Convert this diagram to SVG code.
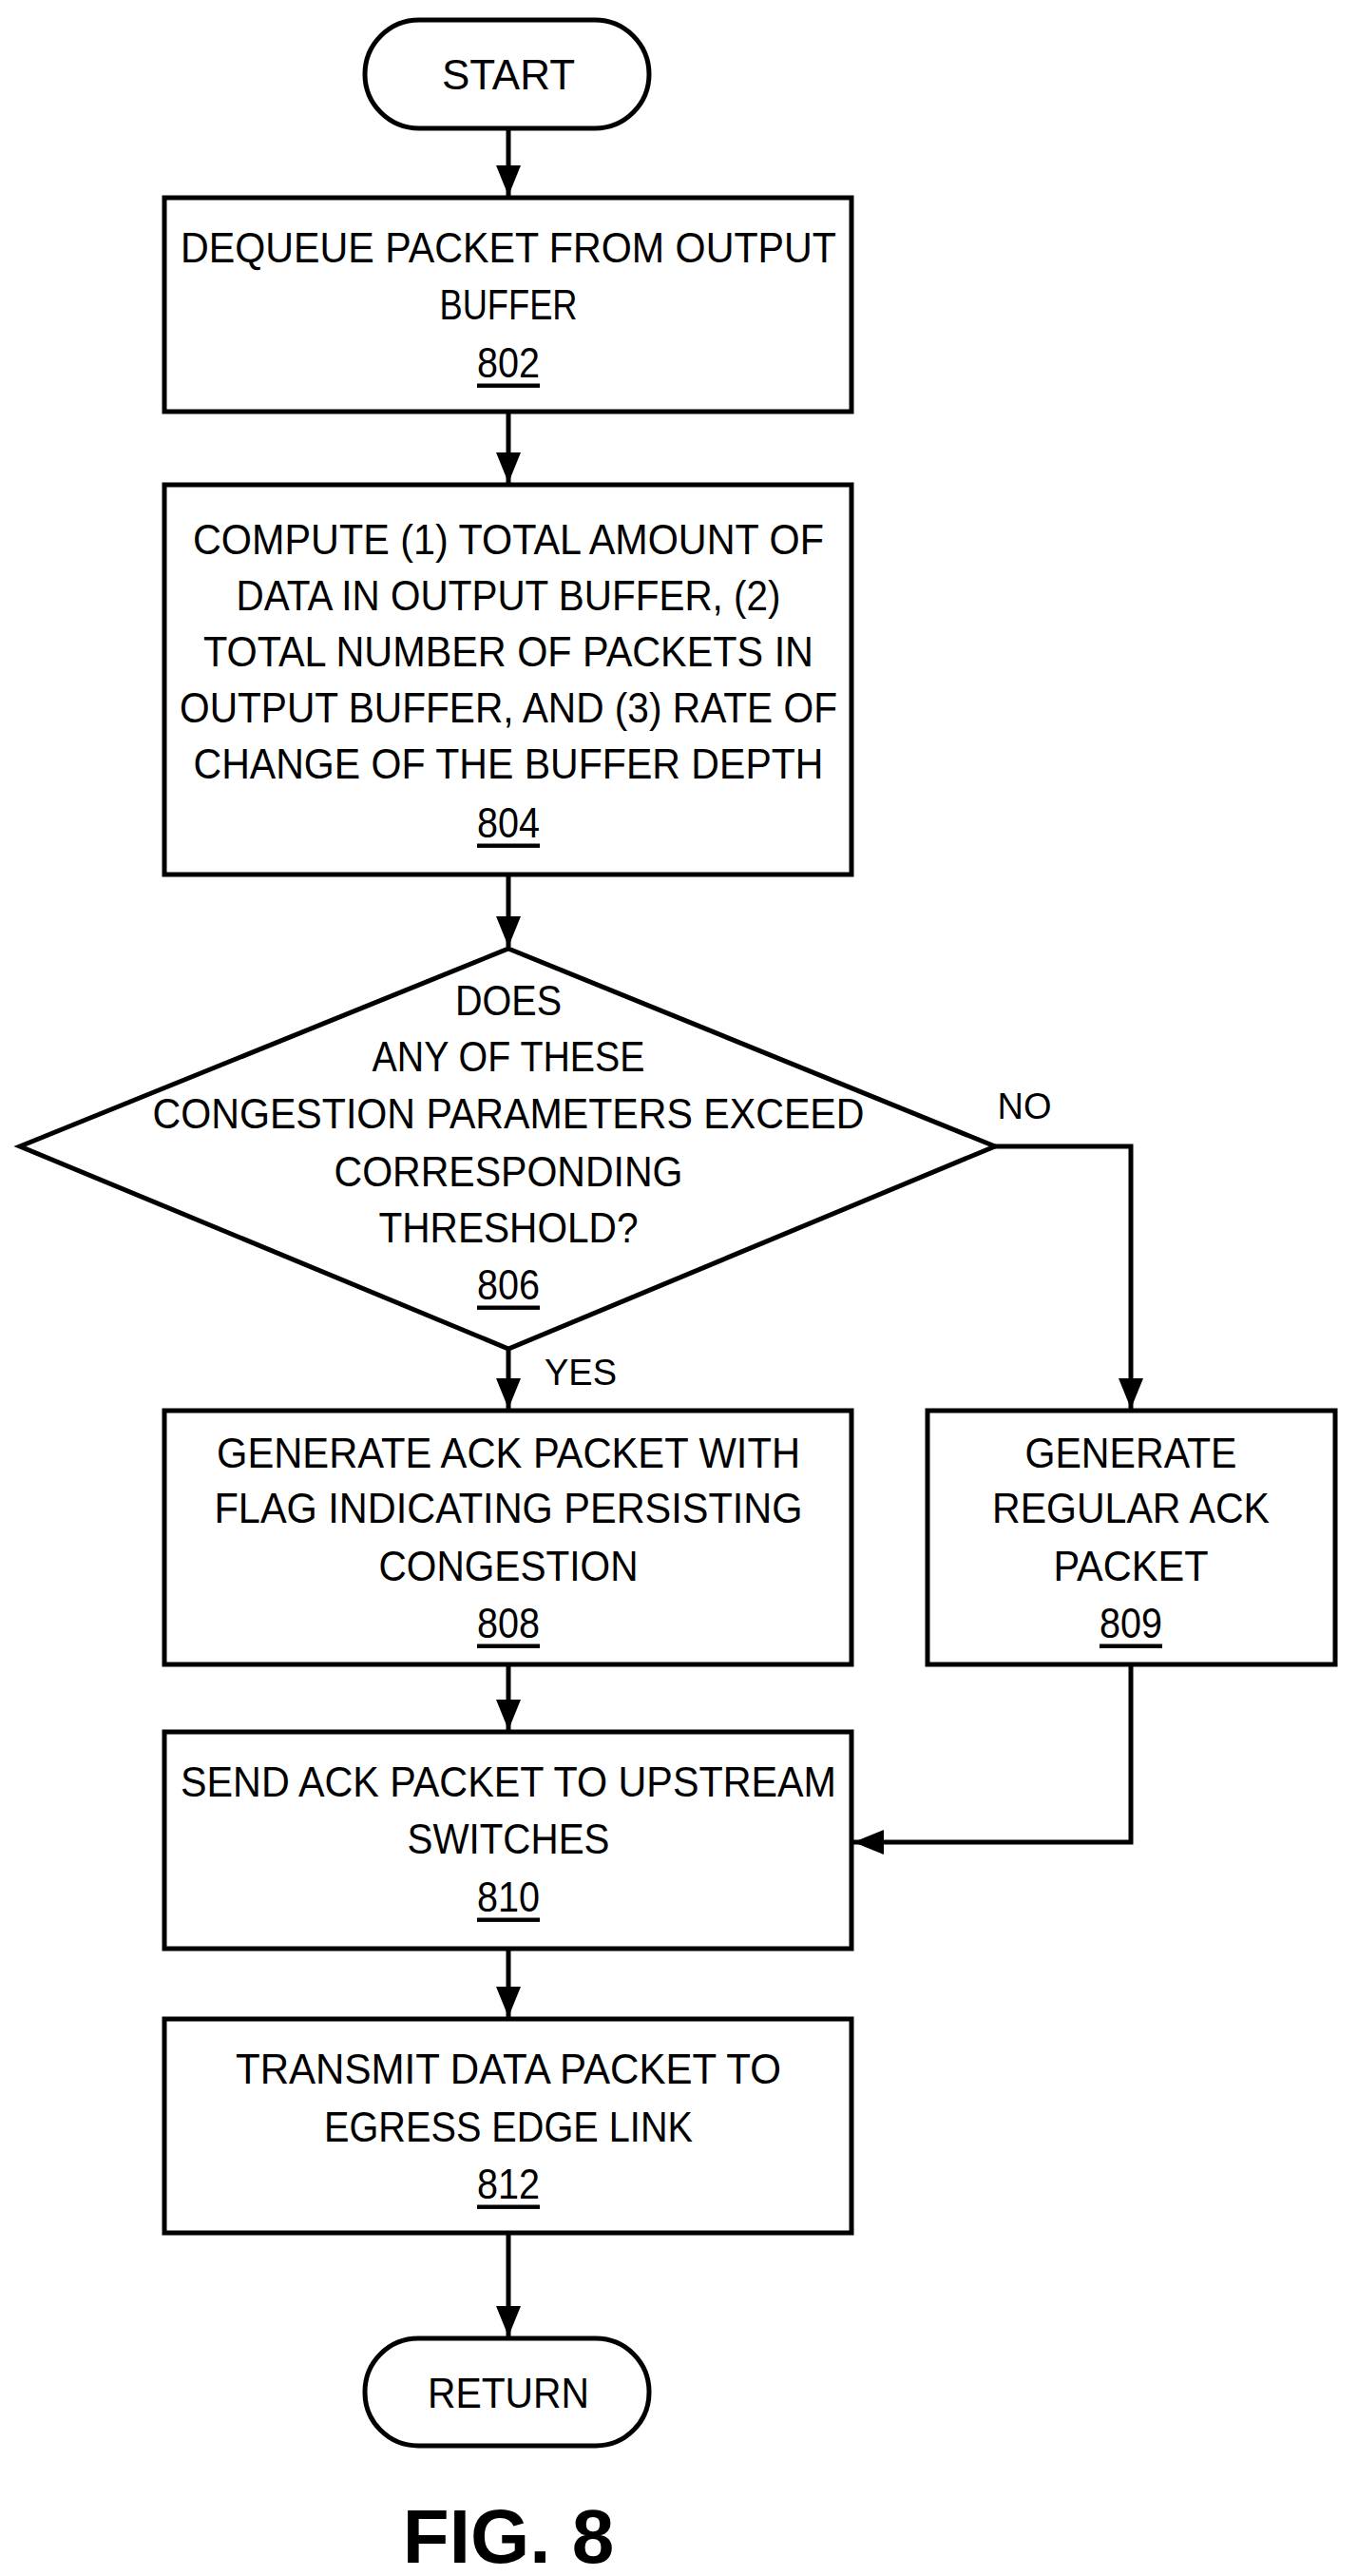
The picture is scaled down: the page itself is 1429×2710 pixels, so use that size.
<svg xmlns="http://www.w3.org/2000/svg" width="1429" height="2710" viewBox="0 0 1429 2710">
<style>
.s{fill:#fff;stroke:#000;stroke-width:5}
.t{font-family:"Liberation Sans",Arial,sans-serif;font-size:44px;text-anchor:middle;dominant-baseline:central;fill:#000}
.u{text-decoration:underline}
.c{fill:none;stroke:#000;stroke-width:5}
</style>
<defs><marker id="a" viewBox="0 0 32 26" refX="32" refY="13" markerWidth="32" markerHeight="26" markerUnits="userSpaceOnUse" orient="auto"><path d="M0,0L32,13L0,26z" fill="#000"/></marker></defs>
<rect width="1429" height="2710" fill="#fff"/>
<g id="connectors">
<line class="c" x1="535" y1="135" x2="535" y2="206" marker-end="url(#a)"/>
<line class="c" x1="535" y1="433" x2="535" y2="508" marker-end="url(#a)"/>
<line class="c" x1="535" y1="920" x2="535" y2="996" marker-end="url(#a)"/>
<line class="c" x1="535" y1="1419" x2="535" y2="1482" marker-end="url(#a)"/>
<polyline class="c" points="1047,1206 1190,1206 1190,1482" marker-end="url(#a)"/>
<line class="c" x1="535" y1="1751" x2="535" y2="1820" marker-end="url(#a)"/>
<polyline class="c" points="1190,1751 1190,1938 898,1938" marker-end="url(#a)"/>
<line class="c" x1="535" y1="2050" x2="535" y2="2122" marker-end="url(#a)"/>
<line class="c" x1="535" y1="2349" x2="535" y2="2458" marker-end="url(#a)"/>
<text class="t" x="1078" y="1164" style="font-size:38px">NO</text>
<text class="t" x="611" y="1444" style="font-size:38px">YES</text>
</g>
<g id="start"><rect class="s" x="384" y="21" width="299" height="114" rx="57"/><text class="t" x="535" y="78">START</text></g>
<g id="n802"><rect class="s" x="173" y="208" width="723" height="225"/>
<text class="t" x="535" y="260" textLength="690" lengthAdjust="spacingAndGlyphs">DEQUEUE PACKET FROM OUTPUT</text>
<text class="t" x="535" y="320" textLength="145" lengthAdjust="spacingAndGlyphs">BUFFER</text>
<text class="t u" x="535" y="381" textLength="66" lengthAdjust="spacingAndGlyphs">802</text></g>
<g id="n804"><rect class="s" x="173" y="510" width="723" height="410"/>
<text class="t" x="535" y="567" textLength="664" lengthAdjust="spacingAndGlyphs">COMPUTE (1) TOTAL AMOUNT OF</text>
<text class="t" x="535" y="626" textLength="573" lengthAdjust="spacingAndGlyphs">DATA IN OUTPUT BUFFER, (2)</text>
<text class="t" x="535" y="685" textLength="642" lengthAdjust="spacingAndGlyphs">TOTAL NUMBER OF PACKETS IN</text>
<text class="t" x="535" y="744" textLength="692" lengthAdjust="spacingAndGlyphs">OUTPUT BUFFER, AND (3) RATE OF</text>
<text class="t" x="535" y="803" textLength="663" lengthAdjust="spacingAndGlyphs">CHANGE OF THE BUFFER DEPTH</text>
<text class="t u" x="535" y="865" textLength="66" lengthAdjust="spacingAndGlyphs">804</text></g>
<g id="n806"><polygon class="s" points="535,998 1047,1206 535,1419 21,1206"/>
<text class="t" x="535" y="1052" textLength="112" lengthAdjust="spacingAndGlyphs">DOES</text>
<text class="t" x="535" y="1111" textLength="287" lengthAdjust="spacingAndGlyphs">ANY OF THESE</text>
<text class="t" x="535" y="1171" textLength="749" lengthAdjust="spacingAndGlyphs">CONGESTION PARAMETERS EXCEED</text>
<text class="t" x="535" y="1232" textLength="367" lengthAdjust="spacingAndGlyphs">CORRESPONDING</text>
<text class="t" x="535" y="1291" textLength="273" lengthAdjust="spacingAndGlyphs">THRESHOLD?</text>
<text class="t u" x="535" y="1351" textLength="66" lengthAdjust="spacingAndGlyphs">806</text></g>
<g id="n808"><rect class="s" x="173" y="1484" width="723" height="267"/>
<text class="t" x="535" y="1528" textLength="614" lengthAdjust="spacingAndGlyphs">GENERATE ACK PACKET WITH</text>
<text class="t" x="535" y="1586" textLength="619" lengthAdjust="spacingAndGlyphs">FLAG INDICATING PERSISTING</text>
<text class="t" x="535" y="1647" textLength="273" lengthAdjust="spacingAndGlyphs">CONGESTION</text>
<text class="t u" x="535" y="1707" textLength="66" lengthAdjust="spacingAndGlyphs">808</text></g>
<g id="n809"><rect class="s" x="976" y="1484" width="429" height="267"/>
<text class="t" x="1190" y="1528" textLength="223" lengthAdjust="spacingAndGlyphs">GENERATE</text>
<text class="t" x="1190" y="1586" textLength="292" lengthAdjust="spacingAndGlyphs">REGULAR ACK</text>
<text class="t" x="1190" y="1647" textLength="163" lengthAdjust="spacingAndGlyphs">PACKET</text>
<text class="t u" x="1190" y="1707" textLength="66" lengthAdjust="spacingAndGlyphs">809</text></g>
<g id="n810"><rect class="s" x="173" y="1822" width="723" height="228"/>
<text class="t" x="535" y="1874" textLength="690" lengthAdjust="spacingAndGlyphs">SEND ACK PACKET TO UPSTREAM</text>
<text class="t" x="535" y="1934" textLength="213" lengthAdjust="spacingAndGlyphs">SWITCHES</text>
<text class="t u" x="535" y="1995" textLength="66" lengthAdjust="spacingAndGlyphs">810</text></g>
<g id="n812"><rect class="s" x="173" y="2124" width="723" height="225"/>
<text class="t" x="535" y="2176" textLength="574" lengthAdjust="spacingAndGlyphs">TRANSMIT DATA PACKET TO</text>
<text class="t" x="535" y="2237" textLength="388" lengthAdjust="spacingAndGlyphs">EGRESS EDGE LINK</text>
<text class="t u" x="535" y="2297" textLength="66" lengthAdjust="spacingAndGlyphs">812</text></g>
<g id="return"><rect class="s" x="384" y="2460" width="299" height="113" rx="56"/><text class="t" x="535" y="2517" textLength="170" lengthAdjust="spacingAndGlyphs">RETURN</text></g>
<text class="t" x="535" y="2668" style="font-size:80px;font-weight:bold">FIG. 8</text>
</svg>
